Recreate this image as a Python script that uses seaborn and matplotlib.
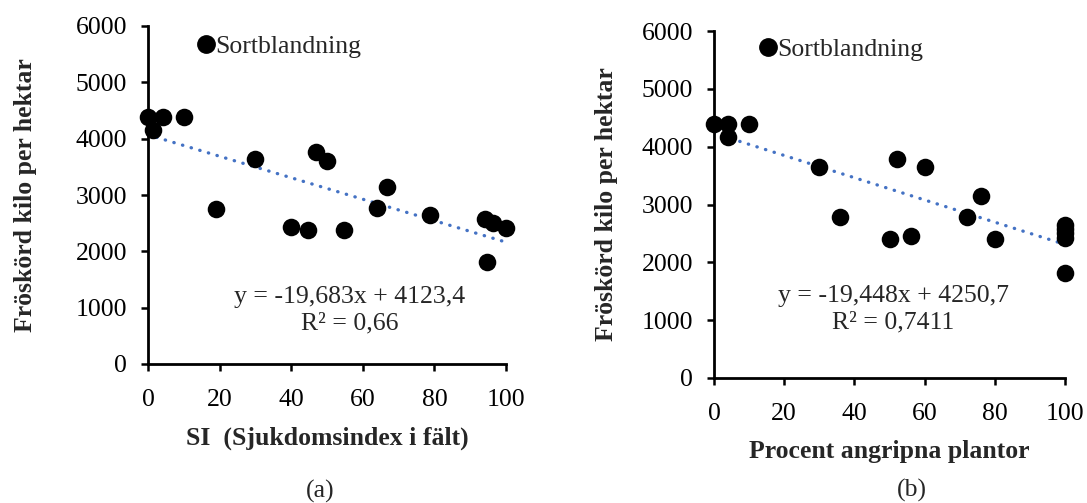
import matplotlib
matplotlib.use("Agg")
import matplotlib.pyplot as plt
import seaborn as sns
import numpy as np
from matplotlib.lines import Line2D

sns.set_theme(style="white")
plt.rcParams['font.family'] = ['Liberation Serif', 'DejaVu Serif']

# Panel (a): SI (Sjukdomsindex i fält)
si_x = [0, 1.3, 4.3, 10, 19, 30, 40, 44.6, 46.8, 50, 54.7, 64, 66.7, 78.8, 94, 96.5, 94.6, 100]
si_y = [4390, 4150, 4390, 4390, 2760, 3645, 2440, 2385, 3770, 3605, 2385, 2770, 3135, 2640, 2580, 2510, 1810, 2420]

# Panel (b): Procent angripna plantor
pa_x = [0, 4, 4, 10, 30, 36, 50, 56, 52, 60, 72, 76, 80, 100, 100, 100, 100, 100]
pa_y = [4390, 4390, 4175, 4390, 3655, 2785, 2405, 2460, 3785, 3640, 2790, 3150, 2405, 2640, 2580, 2510, 2420, 1810]

y_ticks = [0, 1000, 2000, 3000, 4000, 5000, 6000]
x_ticks = [0, 20, 40, 60, 80, 100]

series_label = "Sortblandning"
eq_a = ["y = -19,683x + 4123,4", "R² = 0,66"]
eq_b = ["y = -19,448x + 4250,7", "R² = 0,7411"]
xlabel_a = "SI  (Sjukdomsindex i fält)"
xlabel_b = "Procent angripna plantor"
ylabel = "Fröskörd kilo per hektar"
sub_a, sub_b = "(a)", "(b)"

fig = plt.figure(figsize=(10.87, 5.03), dpi=100)
ax_a = fig.add_axes([148/1087, 1-364/503, (506-148)/1087, (364-26)/503])
ax_b = fig.add_axes([714/1087, 1-378/503, (1065-714)/1087, (378-31)/503])

FS = 18.5
line_color = "#4472C4"

def draw(ax, xs, ys, eq, xlabel, sub, eq_pos, leg_anchor, sub_x, ylabelpad):
    sns.regplot(x=np.array(xs), y=np.array(ys), ax=ax, ci=None, scatter=False,
                truncate=True,
                line_kws=dict(color=line_color, lw=2.4, linestyle=(0, (0.1, 2.6)),
                              dash_capstyle="round", zorder=1))
    sns.scatterplot(x=xs, y=ys, ax=ax, color="black", s=160, edgecolor="black",
                    linewidth=0, clip_on=False, zorder=3, legend=False)
    ax.set_xlim(0, 100)
    ax.set_ylim(0, 6000)
    ax.set_xticks(x_ticks)
    ax.set_yticks(y_ticks)
    ax.tick_params(axis="both", labelsize=FS, colors="black", direction="out",
                   length=5, width=1.8, left=True, bottom=True)
    ax.tick_params(axis="x", pad=13)
    ax.tick_params(axis="y", pad=10)
    for s in ["top", "right"]:
        ax.spines[s].set_visible(False)
    for s in ["left", "bottom"]:
        ax.spines[s].set_color("black")
        ax.spines[s].set_linewidth(2)
    ax.set_xlabel(xlabel, fontsize=FS, fontweight="bold", labelpad=11)
    ax.set_ylabel(ylabel, fontsize=FS, fontweight="bold", labelpad=ylabelpad)
    handle = Line2D([], [], marker="o", color="black", linestyle="none", markersize=12.5)
    ax.legend([handle], [series_label], loc="upper left", bbox_to_anchor=leg_anchor,
              frameon=False, fontsize=FS, handletextpad=-0.25, borderaxespad=0,
              handlelength=1.2)
    ax.text(eq_pos[0], eq_pos[1], eq[0] + "\n" + eq[1], transform=ax.transAxes,
            ha="center", va="center", fontsize=FS, linespacing=1.25)
    ax.text(sub_x, sub[1], sub[0], transform=ax.transAxes, ha="center", va="center",
            fontsize=FS)

draw(ax_a, si_x, si_y, eq_a, xlabel_a, (sub_a, -(491-364)/338), ((350-148)/358, (364-310)/338),
     (0.09, 1.005), (320-148)/358, 28)
draw(ax_b, pa_x, pa_y, eq_b, xlabel_b, (sub_b, -(490-378)/347), ((893-714)/351, (378-309)/347),
     (0.08, 1.01), (912-714)/351, 17)

fig.savefig("out.png", dpi=100, facecolor="white")
